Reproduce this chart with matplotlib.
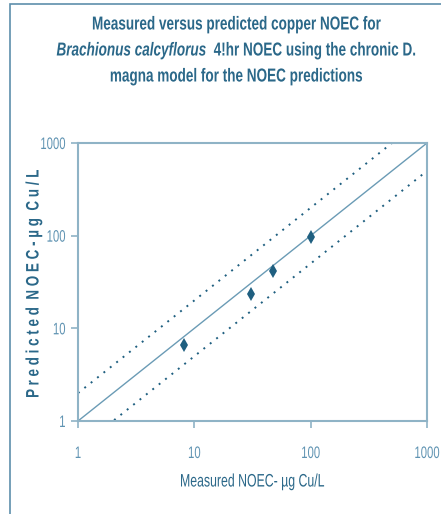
import matplotlib
matplotlib.use('Agg')
import matplotlib.pyplot as plt
import numpy as np
from matplotlib.patches import Rectangle
from matplotlib.patheffects import AbstractPathEffect
from matplotlib.transforms import Affine2D

# measured vs predicted NOEC (ug Cu/L)
measured = [8.1, 31, 47.5, 101]
predicted = [6.6, 23.5, 42, 96]
ticks = [1, 10, 100, 1000]
tick_labels = ['1', '10', '100', '1000']
one_to_one = [1, 1000]
upper_x = [1, 520]
lower_x = [1.8, 950]

axis_col = '#8fb3c6'
text_col = '#2b6889'
tick_col = '#5f93b2'
mark_col = '#1f5f80'
font = ['Liberation Sans', 'DejaVu Sans']


class Squeeze(AbstractPathEffect):
    # squeeze glyphs about a point, a stand-in for a condensed font
    def __init__(self, sx, sy, cx, cy):
        super().__init__()
        self.t = Affine2D().translate(-cx, -cy).scale(sx, sy).translate(cx, cy)

    def draw_path(self, renderer, gc, tpath, affine, rgbFace=None):
        renderer.draw_path(gc, tpath, affine + self.t, rgbFace)


class FitY(AbstractPathEffect):
    # stretch/squeeze the drawn glyphs to span y0..y1 (display px)
    def __init__(self, y0, y1):
        super().__init__()
        self.y0, self.y1 = y0, y1

    def draw_path(self, renderer, gc, tpath, affine, rgbFace=None):
        ext = tpath.get_extents(affine)
        t = Affine2D().translate(0, -ext.y0).scale(1, (self.y1 - self.y0) / ext.height)
        renderer.draw_path(gc, tpath, affine + t.translate(0, self.y0), rgbFace)


def squeeze(txt, r, s, where='center'):
    bb = txt.get_window_extent(r)
    cx = {'left': bb.x0, 'center': (bb.x0 + bb.x1) / 2, 'right': bb.x1}[where]
    cy = (bb.y0 + bb.y1) / 2
    txt.set_path_effects([Squeeze(s, 1, cx, cy)])


W, H = 441, 514
fig = plt.figure(figsize=(W / 100, H / 100), dpi=100)

# frame round the chart (runs off the right and bottom edges)
fig.patches.append(Rectangle((10 / W, -0.1), 1.2, 1.1 - 4 / H, transform=fig.transFigure,
                             fill=False, edgecolor='#5d8fab', lw=1.2))

ax = fig.add_axes([78 / W, 1 - 421 / H, (427 - 78) / W, (421 - 143) / H])
ax.set_xscale('log')
ax.set_yscale('log')
ax.set_xlim(1, 1000)
ax.set_ylim(1, 1000)

ax.plot(one_to_one, one_to_one, color='#6a9bb5', lw=1.0)
ux = np.array(upper_x)
ax.plot(ux, ux * 2, color=mark_col, lw=1.4, ls=(0, (1, 3.2)))
lx = np.array(lower_x)
ax.plot(lx, lx / 2, color=mark_col, lw=1.4, ls=(0, (1, 3.2)))
ax.plot(measured, predicted, ls='none', marker='d', markersize=7,
        color=mark_col, markeredgewidth=0)

ax.set_xticks(ticks)
ax.set_xticklabels(tick_labels)
ax.set_yticks(ticks)
ax.set_yticklabels(tick_labels)
ax.minorticks_off()
ax.tick_params(which='major', direction='out', length=5, width=1.2, color=axis_col,
               labelcolor=tick_col, labelsize=12)
ax.tick_params(axis='x', pad=13)
ax.tick_params(axis='y', pad=4)
for lab in ax.get_xticklabels() + ax.get_yticklabels():
    lab.set_family(font)
for s in ax.spines.values():
    s.set_color(axis_col)
    s.set_linewidth(1.5)

# titles
tkw = dict(va='center', color=text_col, fontsize=13.5, fontweight='bold', family=font)
l1 = fig.text(236 / W, 1 - 25 / H, 'Measured versus predicted copper NOEC for', ha='center', **tkw)
l3 = fig.text(236 / W, 1 - 77 / H, 'magna model for the NOEC predictions', ha='center', **tkw)
t1 = fig.text(0, 1 - 51 / H, 'Brachionus calcyflorus ', ha='left', style='italic', **tkw)
t2 = fig.text(0, 1 - 51 / H, ' 4!hr NOEC using the chronic D.', ha='left', **tkw)

xl = fig.text(252 / W, 1 - 482 / H, 'Measured NOEC- µg Cu/L', ha='center', va='center',
              color=text_col, fontsize=13, family=font)
yl = fig.text(34 / W, 1 - 283 / H, 'P r e d i c t e d  N O E C - µ g  C u / L', ha='center',
              va='center', rotation=90, color=text_col, fontsize=13, fontweight='bold',
              family=font)
# label runs from y=170 to y=397 (from the top) in the reference
yl.set_path_effects([FitY(H - 397, H - 170)])

fig.canvas.draw()
r = fig.canvas.get_renderer()

# condense title: line 1 is ~288 px wide in the reference
sx = 288 / l1.get_window_extent(r).width
squeeze(l1, r, sx)
squeeze(l3, r, sx)
# second line: italic species name + rest, centred together
w1 = t1.get_window_extent(r).width / W
w2 = t2.get_window_extent(r).width / W
x0 = 236 / W - (w1 + w2) / 2
t1.set_x(x0)
t2.set_x(x0 + w1)
fig.canvas.draw()
for t in (t1, t2):
    t.set_path_effects([Squeeze(sx, 1, 236, (1 - 51 / H) * H)])

squeeze(xl, r, 144 / xl.get_window_extent(r).width)
for lab in ax.get_xticklabels():
    squeeze(lab, r, 0.68)
for lab in ax.get_yticklabels():
    squeeze(lab, r, 0.68, where='right')

fig.savefig('out.png', dpi=100)
